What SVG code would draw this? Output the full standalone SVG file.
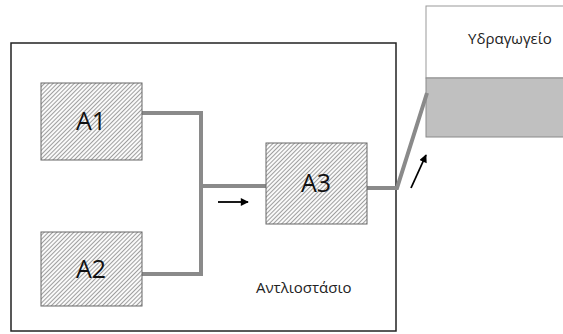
<svg xmlns="http://www.w3.org/2000/svg" width="563" height="334" viewBox="0 0 563 334">
<defs>
<pattern id="hatch" patternUnits="userSpaceOnUse" width="3" height="4" patternTransform="rotate(45)">
<rect width="3" height="4" fill="#fafafa"/>
<line x1="0" y1="0" x2="0" y2="4" stroke="#444" stroke-width="1"/>
</pattern>
<marker id="ah" viewBox="0 0 10 10" refX="9" refY="5" markerWidth="9" markerHeight="8" markerUnits="userSpaceOnUse" orient="auto">
<path d="M0,0 L10,5 L0,10 z" fill="#000"/>
</marker>
</defs>
<style>
.blk{fill:url(#hatch);stroke:#666;stroke-width:1}
.bl{font-family:"Open Sans","Liberation Sans",Arial,sans-serif;font-size:25px;fill:#111;text-anchor:middle}
.lbl{font-family:"Open Sans","Liberation Sans",Arial,sans-serif;font-size:15px;fill:#222}
.pipe{fill:none;stroke:#8a8a8a;stroke-width:4;stroke-linejoin:miter}
.arr{stroke:#000;stroke-width:1.8;marker-end:url(#ah)}
</style>
<rect width="563" height="334" fill="#fff"/>
<g id="pumping-station">
<rect x="11" y="43" width="385" height="288" fill="none" stroke="#222" stroke-width="1.5"/>
<text class="lbl" x="256" y="293">Αντλιοστάσιο</text>
</g>
<g id="reservoir">
<rect x="426" y="6" width="150" height="72" fill="#fff" stroke="#999" stroke-width="1"/>
<rect x="426" y="78" width="150" height="59" fill="#c0c0c0" stroke="#8a8a8a" stroke-width="1"/>
<text class="lbl" x="510" y="44" text-anchor="middle">Υδραγωγείο</text>
</g>
<g id="connectors">
<polyline class="pipe" points="142,113 201,113 201,274 142,274"/>
<line class="pipe" x1="201" y1="186" x2="266" y2="186"/>
<polyline class="pipe" points="367,188 397,188 427,93"/>
<line class="arr" x1="218" y1="202" x2="248" y2="202"/>
<line class="arr" x1="411" y1="188" x2="426" y2="155"/>
</g>
<g id="A1">
<rect class="blk" x="41" y="83" width="101" height="77"/>
<text class="bl" x="91" y="130">A1</text>
</g>
<g id="A2">
<rect class="blk" x="41" y="232" width="101" height="74"/>
<text class="bl" x="91" y="278">A2</text>
</g>
<g id="A3">
<rect class="blk" x="266" y="143" width="101" height="81"/>
<text class="bl" x="316" y="192">A3</text>
</g>
</svg>
